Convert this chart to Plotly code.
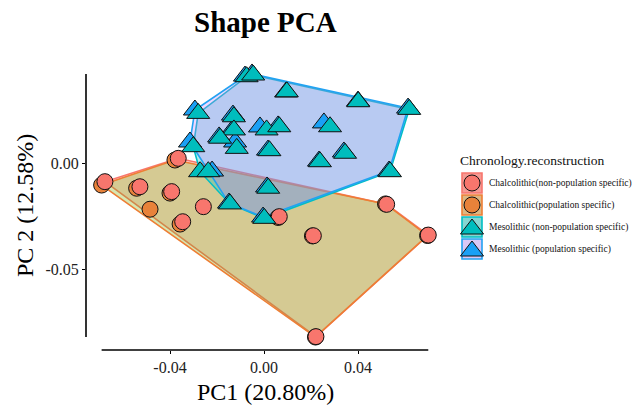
import plotly.graph_objects as go

# ---------------- data ----------------
chal_np_x = [-0.0677, -0.0365, -0.0528, -0.0393, -0.0258, -0.0346, 0.0065, 0.0210, 0.0522, 0.0699, 0.0221]
chal_np_y = [-0.0088, 0.0022, -0.0112, -0.0135, -0.0206, -0.0277, -0.0253, -0.0343, -0.0195, -0.0340, -0.0819]

chal_p_x = [-0.0691, -0.0379, -0.0542, -0.0400, -0.0485, -0.0357, 0.0060, 0.0206, 0.0517, 0.0696, 0.0219]
chal_p_y = [-0.0104, 0.0014, -0.0119, -0.0142, -0.0218, -0.0288, -0.0257, -0.0344, -0.0193, -0.0342, -0.0821]

meso_np_x = [-0.0074, -0.0046, 0.0097, 0.0401, 0.0618, -0.0280, -0.0128, -0.0128, -0.0187, -0.0116, 0.0011, 0.0065,
             0.0281, 0.0023, 0.0238, 0.0345, -0.0301, -0.0272, -0.0237, 0.0536, 0.0018, -0.0145, 0.0001]
meso_np_y = [0.0407, 0.0415, 0.0336, 0.0289, 0.0253, 0.0234, 0.0218, 0.0156, 0.0117, 0.0069, 0.0156, 0.0171,
             0.0171, 0.0058, 0.0006, 0.0046, 0.0077, -0.0041, -0.0041, -0.0041, -0.0119, -0.0193, -0.0261]

meso_p_x = [-0.0081, -0.0051, 0.0094, 0.0400, 0.0613, -0.0294, -0.0132, -0.0132, -0.0191, -0.0123, -0.0017,
            0.0060, 0.0255, 0.0017, 0.0234, 0.0340, -0.0315, -0.0221, 0.0532, 0.0013, -0.0149, -0.0004]
meso_p_y = [0.0410, 0.0420, 0.0335, 0.0292, 0.0259, 0.0250, 0.0226, 0.0160, 0.0123, 0.0099, 0.0170,
            0.0175, 0.0189, 0.0061, 0.0009, 0.0052, 0.0099, -0.0038, -0.0038, -0.0113, -0.0189, -0.0255]

group_names = ["Chalcolithic(non-population specific)", "Chalcolithic(population specific)",
               "Mesolithic (non-population specific)", "Mesolithic (population specific)"]

x_tick_vals = [-0.04, 0.0, 0.04]
x_tick_text = ["-0.04", "0.00", "0.04"]
y_tick_vals = [-0.05, 0.0]
y_tick_text = ["-0.05", "0.00"]

title_text = "Shape PCA"
x_title = "PC1 (20.80%)"
y_title = "PC 2 (12.58%)"
legend_title = "Chronology.reconstruction"

# ---------------- styles ----------------
SERIF = "Liberation Serif, Times New Roman, serif"
point_cols = ["#F8766D", "#E8823A", "#00BDBD", "#1AA0F5"]
line_cols = ["#F8766D", "#EE7E34", "#00BFC4", "#22A2F2"]
hull_fill = ["rgba(248,118,109,0.3)", "rgba(124,174,0,0.3)", "rgba(0,191,196,0.3)", "rgba(199,124,255,0.3)"]
key_fill = ["#F59A93", "#DDB782", "#86D6D2", "#D9C8F6"]
symbols = ["circle", "circle", "triangle-up", "triangle-up"]
sizes = [16, 16, 20, 20]

W, H = 640, 409
PL, PR, PT, PB = 86, 445, 62, 350  # panel pixel box


def hull(xs, ys):
    pts = sorted(set(zip(xs, ys)))

    def cross(o, a, b):
        return (a[0] - o[0]) * (b[1] - o[1]) - (a[1] - o[1]) * (b[0] - o[0])

    lower, upper = [], []
    for p in pts:
        while len(lower) >= 2 and cross(lower[-2], lower[-1], p) <= 0:
            lower.pop()
        lower.append(p)
    for p in reversed(pts):
        while len(upper) >= 2 and cross(upper[-2], upper[-1], p) <= 0:
            upper.pop()
        upper.append(p)
    h = lower[:-1] + upper[:-1]
    h.append(h[0])
    return [p[0] for p in h], [p[1] for p in h]


groups = [(chal_np_x, chal_np_y), (chal_p_x, chal_p_y), (meso_np_x, meso_np_y), (meso_p_x, meso_p_y)]

fig = go.Figure()

# hulls
for i, (gx, gy) in enumerate(groups):
    hx, hy = hull(gx, gy)
    fig.add_trace(go.Scatter(x=hx, y=hy, mode="lines", fill="toself", fillcolor=hull_fill[i],
                             line=dict(color=line_cols[i], width=1.6), showlegend=False, hoverinfo="skip"))

# points (population specific drawn underneath)
for i in [1, 0, 3, 2]:
    gx, gy = groups[i]
    fig.add_trace(go.Scatter(x=gx, y=gy, mode="markers", name=group_names[i], showlegend=False,
                             marker=dict(symbol=symbols[i], size=sizes[i], color=point_cols[i],
                                         line=dict(color="#111111", width=1))))

# ---------------- custom legend (pixel axes x2/y2) ----------------
key_y = [183, 205, 227, 249]
key_x0, key_x1 = 462, 482
shapes = []
for i in range(4):
    shapes.append(dict(type="rect", xref="x2", yref="y2", x0=key_x0, x1=key_x1,
                       y0=key_y[i] - 10, y1=key_y[i] + 10, fillcolor=key_fill[i],
                       line=dict(color=line_cols[i], width=1.6), layer="below"))
    fig.add_trace(go.Scatter(x=[(key_x0 + key_x1) / 2], y=[key_y[i] + (2 if i >= 2 else 0)], xaxis="x2", yaxis="y2",
                             mode="markers", showlegend=False, hoverinfo="skip",
                             marker=dict(symbol=symbols[i], size=sizes[i], color=point_cols[i],
                                         line=dict(color="#111111", width=1))))

annotations = []
for i in range(4):
    annotations.append(dict(xref="x2", yref="y2", x=487, y=key_y[i], text=group_names[i], showarrow=False,
                            xanchor="left", yanchor="middle", font=dict(family=SERIF, size=9.5, color="#111111")))
annotations.append(dict(xref="x2", yref="y2", x=458, y=160, text=legend_title, showarrow=False,
                        xanchor="left", yanchor="middle", font=dict(family=SERIF, size=13.5, color="#111111")))
annotations.append(dict(xref="x2", yref="y2", x=265, y=22, text="<b>" + title_text + "</b>", showarrow=False,
                        xanchor="center", yanchor="middle", font=dict(family=SERIF, size=29, color="#000000")))
annotations.append(dict(xref="x2", yref="y2", x=265, y=392, text=x_title, showarrow=False,
                        xanchor="center", yanchor="middle", font=dict(family=SERIF, size=24, color="#000000")))
annotations.append(dict(xref="x2", yref="y2", x=25, y=206, text=y_title, showarrow=False, textangle=-90,
                        xanchor="center", yanchor="middle", font=dict(family=SERIF, size=24, color="#000000")))

# capped axis lines spanning the data range
all_x = chal_np_x + chal_p_x + meso_np_x + meso_p_x
all_y = chal_np_y + chal_p_y + meso_np_y + meso_p_y
shapes.append(dict(type="line", xref="x", yref="y domain", x0=min(all_x), x1=max(all_x), y0=0, y1=0,
                   line=dict(color="black", width=1.6)))
shapes.append(dict(type="line", xref="x domain", yref="y", x0=0, x1=0, y0=min(all_y), y1=max(all_y),
                   line=dict(color="black", width=1.6)))

x_scale = 2350.0
y_scale = 2120.0
x_range = [(PL - 264) / x_scale, (PR - 264) / x_scale]
y_range = [(163 - PB) / y_scale, (163 - PT) / y_scale]

fig.update_layout(
    width=W, height=H, margin=dict(l=0, r=0, t=0, b=0),
    paper_bgcolor="white", plot_bgcolor="rgba(0,0,0,0)",
    showlegend=False,
    xaxis=dict(domain=[PL / W, PR / W], range=x_range, showgrid=False, zeroline=False, showline=False,
               ticks="outside", ticklen=3, tickwidth=1, tickcolor="black",
               tickvals=x_tick_vals, ticktext=x_tick_text,
               tickfont=dict(family=SERIF, size=16, color="#222222")),
    yaxis=dict(domain=[(H - PB) / H, (H - PT) / H], range=y_range, showgrid=False, zeroline=False, showline=False,
               ticks="outside", ticklen=3, tickwidth=1, tickcolor="black",
               tickvals=y_tick_vals, ticktext=y_tick_text,
               tickfont=dict(family=SERIF, size=16, color="#222222")),
    xaxis2=dict(domain=[0, 1], range=[0, W], visible=False, anchor="y2", fixedrange=True),
    yaxis2=dict(domain=[0, 1], range=[H, 0], visible=False, anchor="x2", fixedrange=True),
    shapes=shapes, annotations=annotations,
)

fig.write_html("out.html", config={"displayModeBar": False},
               post_script="document.body.style.margin='0px';")
